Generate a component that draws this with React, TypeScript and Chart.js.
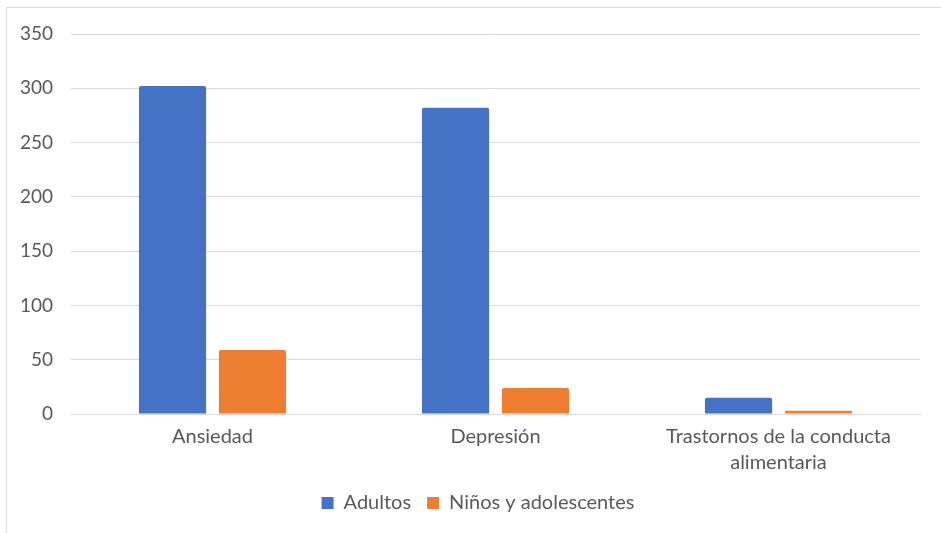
import React, { useEffect, useRef } from "react";
import { Chart, registerables } from "chart.js";

Chart.register(...registerables);

const categories: (string | string[])[] = [
  "Ansiedad",
  "Depresión",
  ["Trastornos de la conducta", "alimentaria"],
];
const seriesNames = ["Adultos", "Niños y adolescentes"];
const adultos = [302, 282, 15];
const ninos = [59, 24, 3];
const yTicks = [0, 50, 100, 150, 200, 250, 300, 350];

const FONT = "Lato, 'Open Sans', sans-serif";
const TEXT = "#595959";

const legendShift = {
  id: "legendShift",
  afterLayout(chart: any) {
    const l = chart.legend;
    if (l) {
      l.left += 18;
      l.right += 18;
    }
  },
};

export default function App() {
  const ref = useRef<HTMLCanvasElement | null>(null);

  useEffect(() => {
    if (!ref.current) return;
    const chart = new Chart(ref.current, {
      type: "bar",
      data: {
        labels: categories,
        datasets: [
          {
            label: seriesNames[0],
            data: adultos,
            backgroundColor: "#4472C4",
            borderRadius: 2,
            borderSkipped: "bottom",
            categoryPercentage: 0.565,
            barPercentage: 0.84,
          },
          {
            label: seriesNames[1],
            data: ninos,
            backgroundColor: "#ED7D31",
            borderRadius: 2,
            borderSkipped: "bottom",
            categoryPercentage: 0.565,
            barPercentage: 0.84,
          },
        ],
      },
      plugins: [legendShift],
      options: {
        responsive: false,
        animation: false,
        layout: { padding: { left: 0, right: 21, top: 34, bottom: 10 } },
        plugins: {
          tooltip: { enabled: false },
          legend: {
            position: "bottom",
            labels: {
              boxWidth: 12,
              boxHeight: 12,
              padding: 16,
              color: TEXT,
              font: { family: FONT, size: 20 },
            },
          },
        },
        scales: {
          x: {
            grid: { display: false, drawTicks: false },
            border: { display: true, color: "#d9d9d9", width: 1 },
            ticks: {
              color: TEXT,
              font: { family: FONT, size: 20, lineHeight: 1.3 },
              padding: 10,
              maxRotation: 0,
              autoSkip: false,
            },
            afterFit: (s: any) => {
              s.height = 63;
            },
          },
          y: {
            min: 0,
            max: 350,
            afterBuildTicks: (s: any) => {
              s.ticks = yTicks.map((v) => ({ value: v }));
            },
            grid: { color: "#d9d9d9", lineWidth: 1, drawTicks: false },
            border: { display: false },
            ticks: {
              color: TEXT,
              font: { family: FONT, size: 19 },
              padding: 18,
            },
            afterFit: (s: any) => {
              s.width = 71;
            },
          },
        },
      },
    });
    return () => chart.destroy();
  }, []);

  return (
    <div
      style={{
        position: "fixed",
        left: 0,
        top: 0,
        width: 941,
        height: 533,
        overflow: "hidden",
        background: "#fff",
      }}
    >
      <div
        style={{
          position: "absolute",
          left: 6,
          top: 7,
          width: 960,
          height: 560,
          border: "1px solid #d9d9d9",
          boxSizing: "border-box",
        }}
      />
      <canvas
        ref={ref}
        width={941}
        height={533}
        style={{ position: "absolute", left: 0, top: 0 }}
      />
    </div>
  );
}
